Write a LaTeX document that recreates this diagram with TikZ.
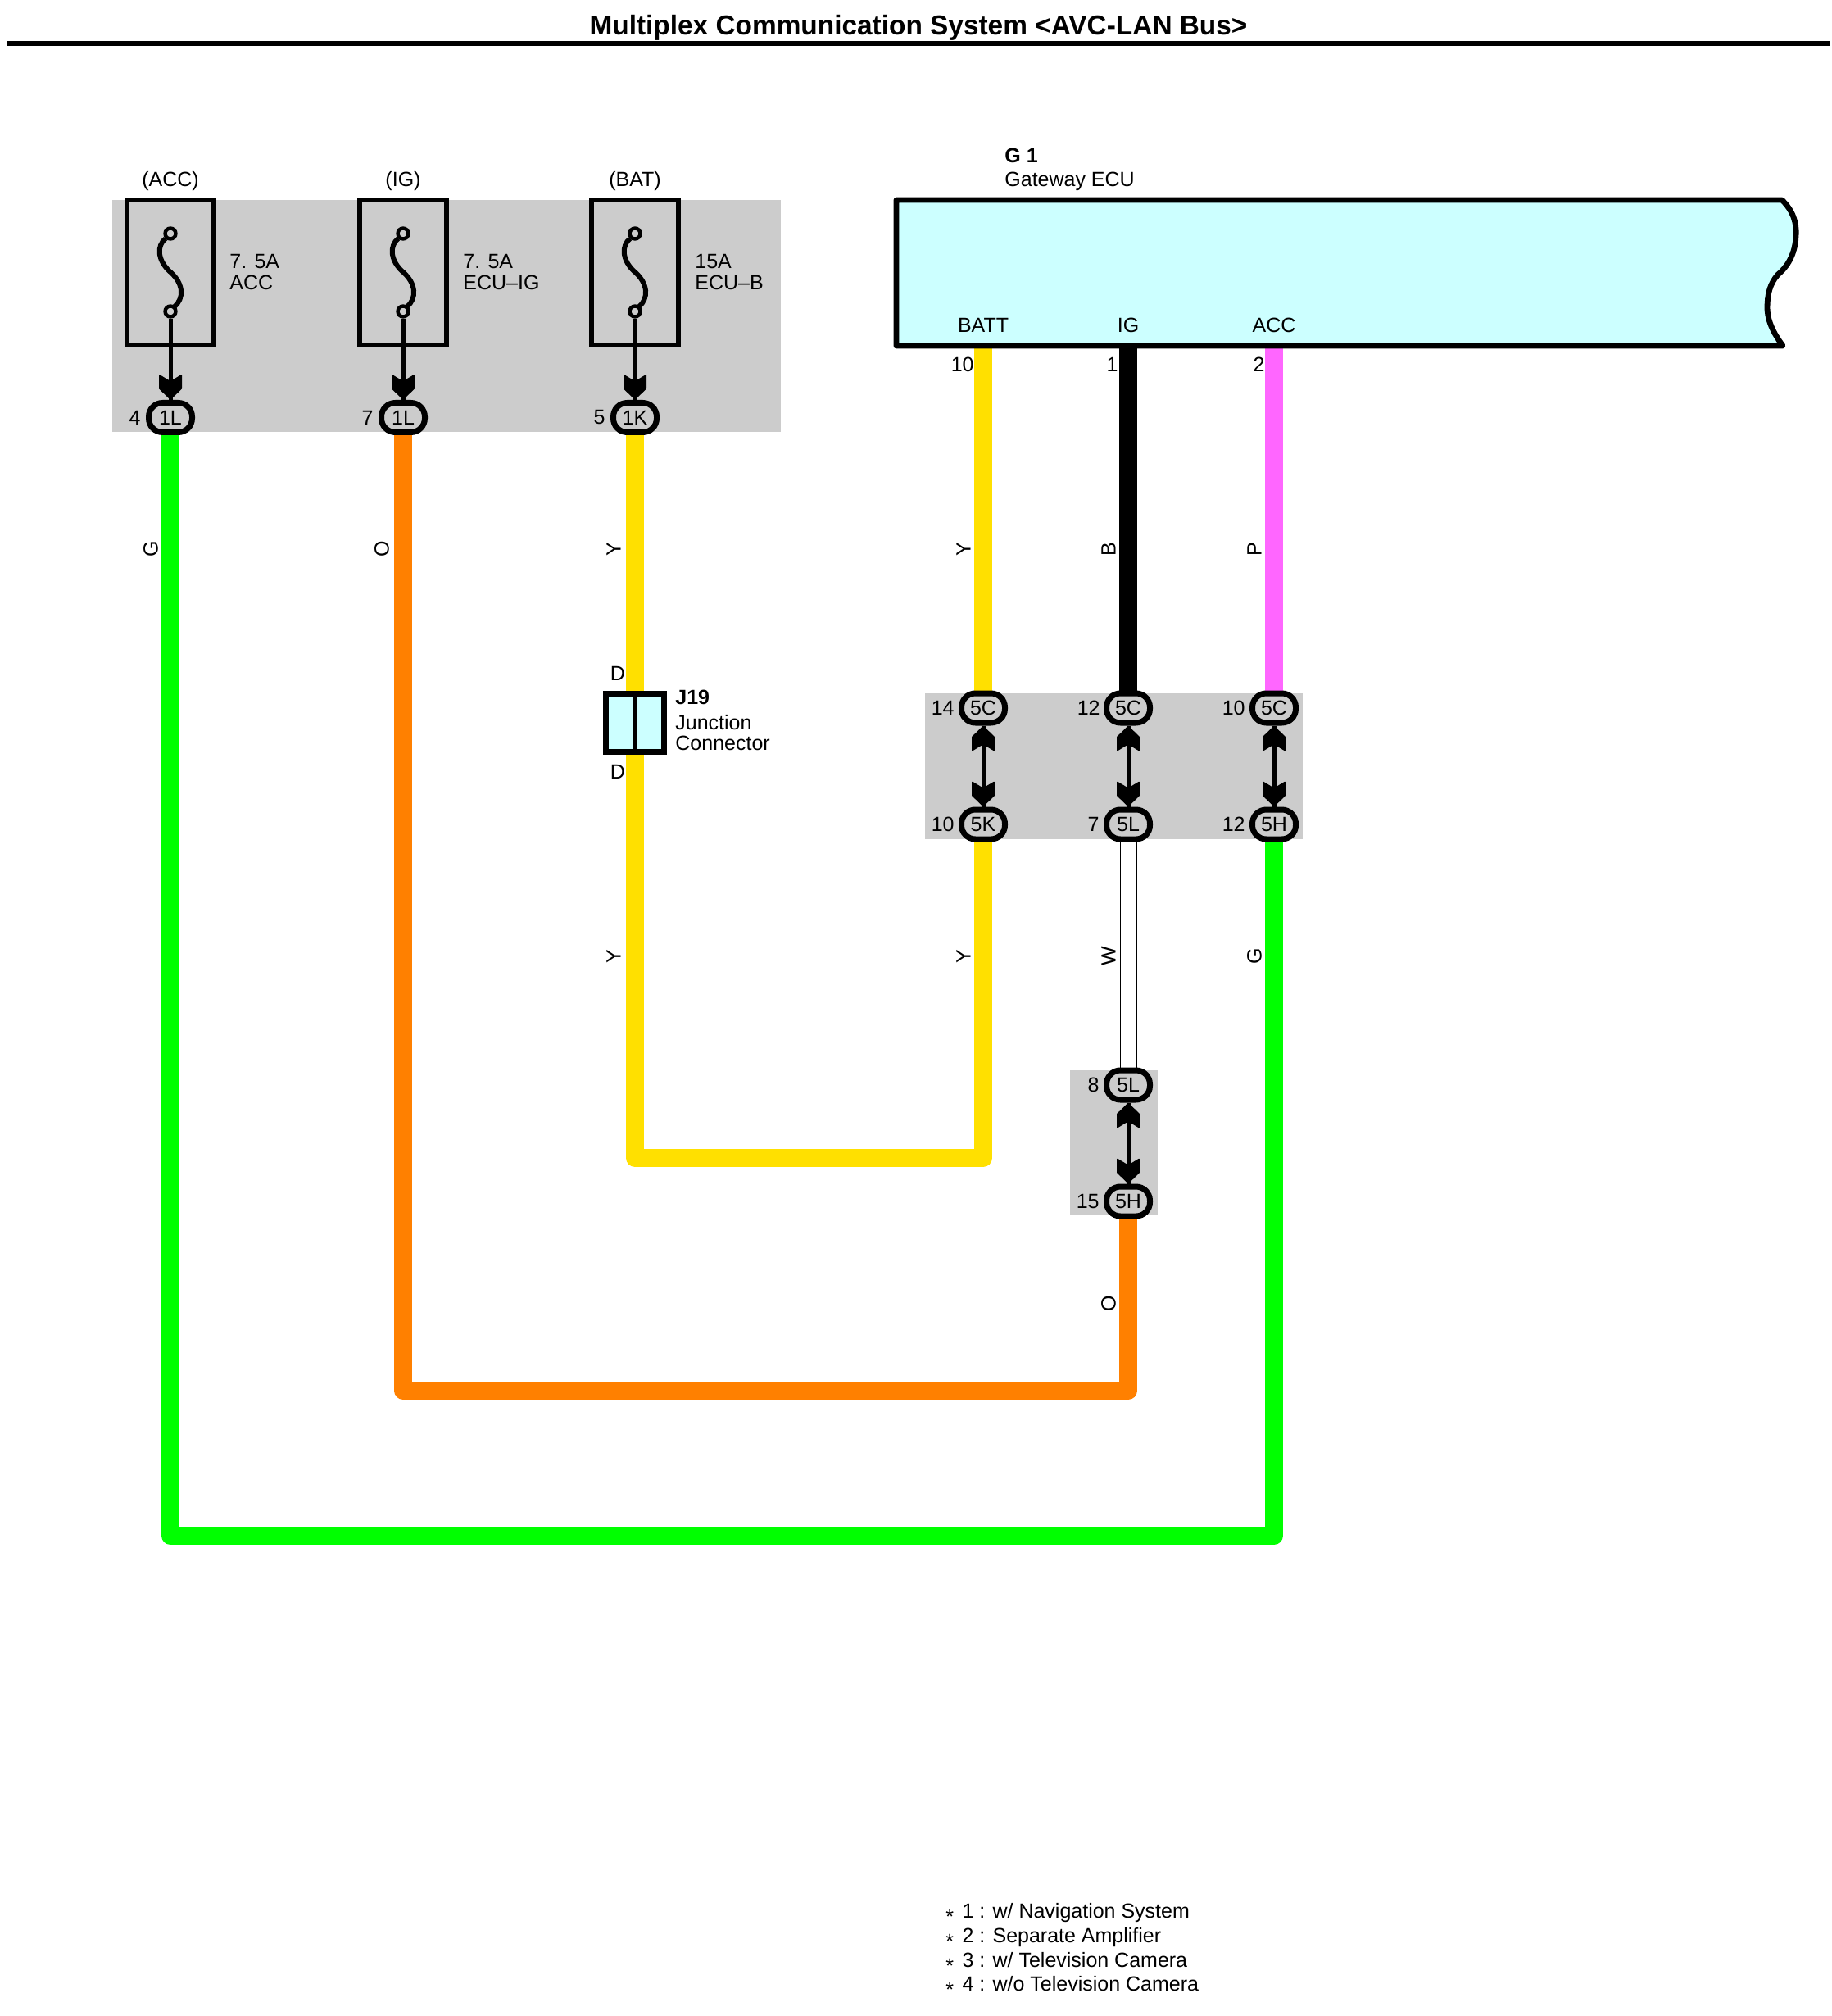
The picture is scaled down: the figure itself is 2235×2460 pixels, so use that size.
\documentclass[tikz,border=0pt]{standalone}
\usepackage{fontspec}
\setmainfont{Liberation Sans}
\pgfdeclarelayer{boxes}
\pgfdeclarelayer{wires}
\pgfsetlayers{boxes,wires,main}
\definecolor{wg}{HTML}{00FF00}
\definecolor{wo}{HTML}{FF8000}
\definecolor{wy}{HTML}{FFE000}
\definecolor{wp}{HTML}{FF66FF}
\definecolor{cy}{HTML}{CCFFFF}
\definecolor{gr}{HTML}{CCCCCC}
\pgfarrowsdeclare{chev}{chev}{\pgfarrowsleftextend{-15pt}\pgfarrowsrightextend{0pt}}{
  \pgfsetlinewidth{0.8pt}\pgfsetroundjoin
  \pgfpathmoveto{\pgfpoint{-0.5pt}{0pt}}
  \pgfpathlineto{\pgfpoint{-7pt}{6.6pt}}
  \pgfpathlineto{\pgfpoint{-15pt}{6.6pt}}
  \pgfpathlineto{\pgfpoint{-11pt}{0pt}}
  \pgfpathlineto{\pgfpoint{-15pt}{-6.6pt}}
  \pgfpathlineto{\pgfpoint{-7pt}{-6.6pt}}
  \pgfpathclose
  \pgfusepathqfillstroke}
\newcommand{\notestar}{\raisebox{-0.3em}{*}\hspace{5.2pt}}
\tikzset{
  txt/.style={inner sep=0pt,font=\fontsize{12.5}{12.5}\selectfont},
  txtl/.style={txt,anchor=west},
  pin/.style={txt,anchor=east},
  bold/.style={txtl,font=\fontsize{12.5}{12.5}\selectfont\bfseries},
  conn/.style={draw=black,fill=gr,line width=3.5pt,rounded corners=8.5pt,minimum width=26.5pt,minimum height=18pt,inner sep=0pt,font=\fontsize{12.5}{12.5}\selectfont},
  fusebox/.style={draw=black,line width=3.3pt,minimum width=53pt,minimum height=88.5pt,inner sep=0pt},
  term/.style={circle,draw=black,fill=gr,line width=2.2pt,minimum size=6.5pt,inner sep=0pt},
  wire/.style={line width=11pt,line join=round},
  link/.style={line width=2.5pt,black},
  wl/.style={txt,rotate=90},
  thinw/.style={line width=0.5pt,black},
}
\newcommand{\fuseunit}[8]{%
  \node[fusebox] (#1) at (#2,332.5) {};
  \node[term] (#1t) at (#2,285) {};
  \node[term] (#1b) at (#2,380) {};
  \node[txt] (#1title) at (#2,221) {#3};
  \node[conn] (#1c) at (#2,509.5) {#4};
  \node[pin] (#1p) at ({#2-36},509.5) {#5};
  \node[txtl] (#1a) at (#8,319) {#6};
  \node[txtl] (#1n) at (#8,345) {#7};
  \draw[line width=3pt] ({#2-6},291) .. controls ({#2-17},300) and ({#2-16},318) .. (#2,332) .. controls ({#2+16},346) and ({#2+17},364) .. ({#2+5},374);
  \begin{pgfonlayer}{wires}
    \draw[link,-chev] (#1b) -- (#1c.north);
  \end{pgfonlayer}
}
\begin{document}
\begin{tikzpicture}[x=0.5pt,y=-0.5pt]
\useasboundingbox (0,0) rectangle (2235,2460);
% title
\node[inner sep=0pt,font=\fontsize{16.7}{16.7}\selectfont\bfseries] (title) at (1121,34) {Multiplex Communication System <AVC-LAN Bus>};
\coordinate (rulea) at (9,53);
\coordinate (ruleb) at (2233,53);
\draw[line width=3pt] (rulea) -- (ruleb);
% gray panels
\begin{pgfonlayer}{boxes}
  \fill[gr] (137,244) rectangle (953,527);
  \fill[gr] (1129,846) rectangle (1590,1024);
  \fill[gr] (1306,1306) rectangle (1413,1483);
\end{pgfonlayer}
% fuses
\fuseunit{fa}{208}{(ACC)}{1L}{4}{7. 5A}{ACC}{280}
\fuseunit{fb}{492}{(IG)}{1L}{7}{7. 5A}{ECU--IG}{565}
\fuseunit{fc}{775}{(BAT)}{1K}{5}{15A}{ECU--B}{848}
% ECU
\draw[line width=3.4pt,fill=cy,line join=round] (1094,244) -- (2175,244) .. controls (2189,258) and (2193,272) .. (2192,288) .. controls (2191,310) and (2182,325) .. (2170,335) .. controls (2160,346) and (2157,360) .. (2157,375) .. controls (2157,392) and (2165,407) .. (2176,422) -- (1094,422) -- cycle;
\coordinate (ebatt) at (1200,425);
\coordinate (eig) at (1377,425);
\coordinate (eacc) at (1555,425);
\node[bold] (g1) at (1226,190) {G 1};
\node[txtl] (g1n) at (1226,221) {Gateway ECU};
\node[txt] (lbatt) at (1200,397) {BATT};
\node[txt] (lig) at (1377,397) {IG};
\node[txt] (lacc) at (1555,397) {ACC};
\node[pin] (p10) at (1189,445) {10};
\node[pin] (p1) at (1365,445) {1};
\node[pin] (p2) at (1544,445) {2};
% junction
\node[draw=black,fill=cy,line width=3.5pt,minimum width=35.5pt,minimum height=35.5pt,inner sep=0pt] (j19) at (775,882) {};
\draw[line width=2pt] (j19.north) -- (j19.south);
\node[txt] (d1) at (754,822) {D};
\node[txt] (d2) at (754,942) {D};
\node[bold] (j19t) at (824,851) {J19};
\node[txtl] (j19a) at (824,882) {Junction};
\node[txtl] (j19b) at (824,907) {Connector};
% middle connectors
\node[conn] (c5ca) at (1200,864) {5C};
\node[conn] (c5cb) at (1377,864) {5C};
\node[conn] (c5cc) at (1555,864) {5C};
\node[conn] (c5k) at (1200,1006) {5K};
\node[conn] (c5la) at (1377,1006) {5L};
\node[conn] (c5ha) at (1555,1006) {5H};
\node[pin] (n14) at (1165,864) {14};
\node[pin] (n12a) at (1343,864) {12};
\node[pin] (n10a) at (1520,864) {10};
\node[pin] (n10b) at (1165,1006) {10};
\node[pin] (n7) at (1342,1006) {7};
\node[pin] (n12b) at (1520,1006) {12};
% lower connectors
\node[conn] (c5lb) at (1377,1324) {5L};
\node[conn] (c5hb) at (1377,1466) {5H};
\node[pin] (n8) at (1342,1324) {8};
\node[pin] (n15) at (1342,1466) {15};
% wire corners
\coordinate (ya) at (775,1413);
\coordinate (yb) at (1200,1413);
\coordinate (oa) at (492,1697);
\coordinate (ob) at (1377,1697);
\coordinate (ga) at (208,1874);
\coordinate (gb) at (1555,1874);
\begin{pgfonlayer}{wires}
  \draw[wire,wg] (fac.south) -- (ga) -- (gb) -- (c5ha.south);
  \draw[wire,wo] (fbc.south) -- (oa) -- (ob) -- (c5hb.south);
  \draw[wire,wy] (fcc.south) -- (j19.north);
  \draw[wire,wy] (j19.south) -- (ya) -- (yb) -- (c5k.south);
  \draw[wire,wy] (ebatt) -- (c5ca.north);
  \draw[wire,black] (eig) -- (c5cb.north);
  \draw[wire,wp] (eacc) -- (c5cc.north);
  \draw[link,chev-chev] (c5ca.south) -- (c5k.north);
  \draw[link,chev-chev] (c5cb.south) -- (c5la.north);
  \draw[link,chev-chev] (c5cc.south) -- (c5ha.north);
  \draw[link,chev-chev] (c5lb.south) -- (c5hb.north);
  \draw[thinw] ([xshift=-5pt]c5la.south) -- ([xshift=-5pt]c5lb.north);
  \draw[thinw] ([xshift=5pt]c5la.south) -- ([xshift=5pt]c5lb.north);
\end{pgfonlayer}
% wire labels
\node[wl] (wlg) at (184,670) {G};
\node[wl] (wlo) at (466,670) {O};
\node[wl] (wly) at (749,670) {Y};
\node[wl] (wly2) at (1176,670) {Y};
\node[wl] (wlb) at (1353,670) {B};
\node[wl] (wlp) at (1531,670) {P};
\node[wl] (wly3) at (749,1167) {Y};
\node[wl] (wly4) at (1176,1167) {Y};
\node[wl] (wlw) at (1353,1167) {W};
\node[wl] (wlg2) at (1531,1167) {G};
\node[wl] (wlo2) at (1353,1591) {O};
% notes
\node[txtl] (na) at (1154,2335) {\notestar 1 : w/ Navigation System};
\node[txtl] (nb) at (1154,2365) {\notestar 2 : Separate Amplifier};
\node[txtl] (nc) at (1154,2395) {\notestar 3 : w/ Television Camera};
\node[txtl] (nd) at (1154,2424) {\notestar 4 : w/o Television Camera};
\end{tikzpicture}
\end{document}
